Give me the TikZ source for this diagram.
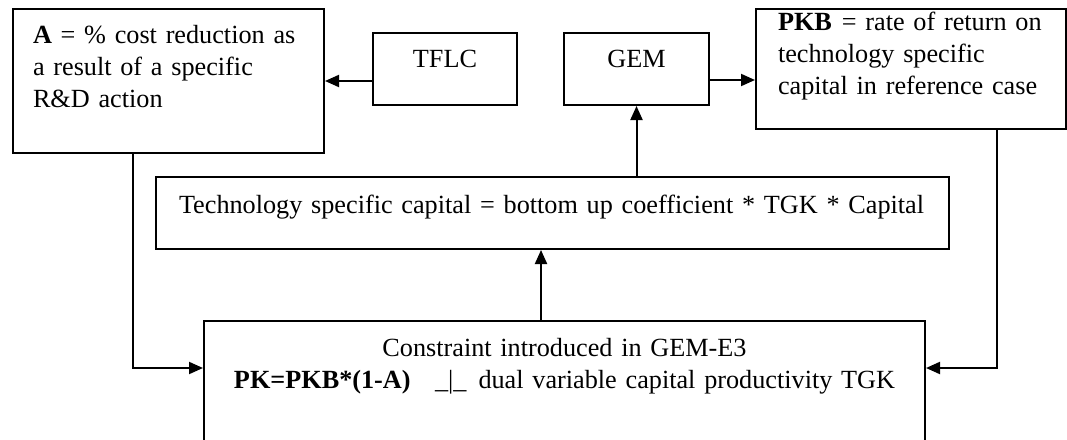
\documentclass[tikz,border=0pt]{standalone}
\usepackage{fontspec}
\setmainfont{Liberation Serif}
\usepackage{tikz}
\usetikzlibrary{arrows.meta, positioning}

\begin{document}
\begin{tikzpicture}[
  x=0.45pt, y=-0.45pt,             % <<< pixel grid of the layout
  >={Triangle[length=6.3pt, width=5.4pt]},
  font=\fontsize{11.8pt}{14.4pt}\selectfont,
  line width=0.9pt,
  box/.style={
    rectangle, draw,
    anchor=north west,
    inner xsep=0pt, inner ysep=0pt
  },
  note/.style={box, align=left},
  small/.style={box, text height=15.75pt, text depth=16.65pt},
]

\useasboundingbox (0,0) rectangle (1067,439);
\clip (0,0) rectangle (1067,439);

% --- Top row ---
\node[note, text width=121.95pt, inner xsep=9pt,
      text height=15.75pt, text depth=49.05pt] (A) at (12,8)
  {\mbox{\textbf{A} = \% cost reduction as}\\ \mbox{a result of a specific}\\ \mbox{R\&D action}};
\node[small, minimum width=64.8pt] (TFLC) at (372,32) {TFLC};
\node[small, minimum width=65.25pt] (GEM) at (563,32) {GEM};
\node[note, text width=119.7pt, inner xsep=9.9pt,
      text height=9.9pt, text depth=44.1pt] (PKB) at (755,8)
  {\mbox{\textbf{PKB}\hspace{4.5pt}= rate of return on}\\ \mbox{technology specific}\\ \mbox{capital in reference case}};

% --- Middle ---
\node[note, text width=336.15pt, inner xsep=10.35pt,
      text height=16.2pt, text depth=16.2pt] (Mid) at (155,176)
  {\mbox{Technology specific capital = bottom up coefficient * TGK * Capital}};

% --- Bottom: constraint ---
\node[box, align=center, text width=315.45pt, inner xsep=4.5pt,
      text height=15.75pt, text depth=47.25pt] (Cons) at (203,320)
  {Constraint introduced in GEM-E3\\
   \mbox{\textbf{PK=PKB*(1-A)}\hspace{11pt}\_|\_\hspace{5.4pt}dual variable capital productivity TGK}};

% --- Connector ends ---
\coordinate (tflcW) at ([yshift=-5.4pt]TFLC.west);
\coordinate (gemE) at ([yshift=-4.95pt]GEM.east);
\coordinate (consN) at ([xshift=-10.575pt]Cons.north);
\coordinate (aS) at ([xshift=-15.975pt]A.south);
\coordinate (pkbS) at ([xshift=38.7pt]PKB.south);
\coordinate (consL) at ([yshift=-21.6pt]Cons.north west);
\coordinate (consR) at ([yshift=-21.6pt]Cons.north east);

% --- Arrows ---
\draw[->] (tflcW) -- (tflcW -| A.east);
\draw[->] (gemE) -- (gemE -| PKB.west);

\draw[->] (Mid.north -| GEM.south) -- (GEM.south);
\draw[->] (consN) -- (consN |- Mid.south);

\draw[->] (aS) |- (consL);
\draw[->] (pkbS) |- (consR);

\end{tikzpicture}
\end{document}
